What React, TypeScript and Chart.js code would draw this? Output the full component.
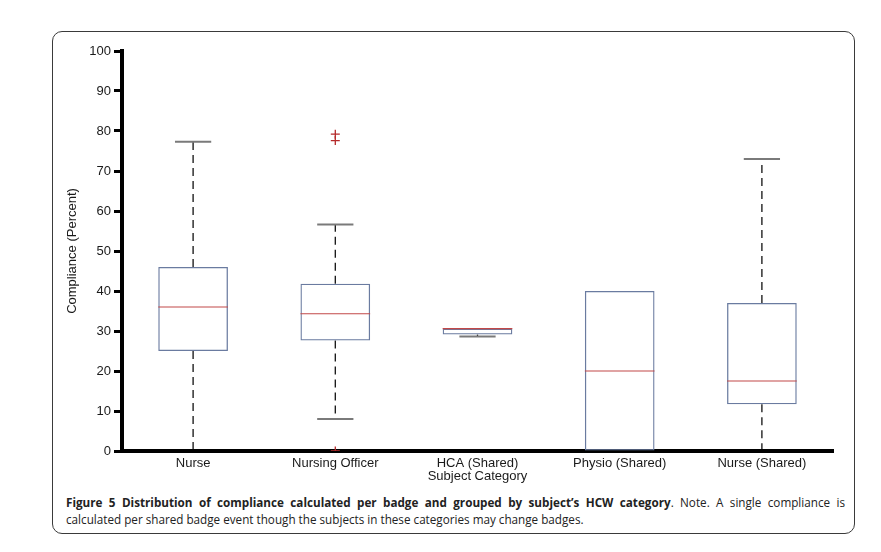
import React, { useEffect, useRef } from "react";
import { Chart, registerables } from "chart.js";

Chart.register(...registerables);

const categories = ["Nurse", "Nursing Officer", "HCA (Shared)", "Physio (Shared)", "Nurse (Shared)"];
const whiskerLow = [0, 8, 28.6, 0, 0];
const quartile1 = [25, 27.6, 29.1, 0, 11.7];
const medians = [36, 34.3, 30.6, 20, 17.5];
const quartile3 = [46, 41.8, 30.6, 40, 37];
const whiskerHigh = [77.3, 56.6, 30.6, 40, 73];
const outlierCategory = ["Nursing Officer", "Nursing Officer", "Nursing Officer"];
const outlierValues = [79.2, 77.6, 0];
const yTicks = [0, 10, 20, 30, 40, 50, 60, 70, 80, 90, 100];

const FONT = "'Liberation Sans', Arial, sans-serif";

const boxPlugin = {
  id: "boxWhiskers",
  beforeDraw(chart: any) {
    const ctx = chart.ctx;
    const y = chart.scales.y;
    const meta = chart.getDatasetMeta(0);
    meta.data.forEach((bar: any, i: number) => {
      const cx = bar.x;
      const w = bar.width;
      const capHalf = w * 0.26;
      ctx.save();
      const segs: [number, number][] = [];
      if (whiskerHigh[i] > quartile3[i]) segs.push([quartile3[i], whiskerHigh[i]]);
      if (whiskerLow[i] < quartile1[i]) segs.push([quartile1[i], whiskerLow[i]]);
      segs.forEach(([from, to]) => {
        ctx.beginPath();
        ctx.setLineDash([8, 5]);
        ctx.strokeStyle = "#111";
        ctx.lineWidth = 1.3;
        ctx.moveTo(cx, y.getPixelForValue(from));
        ctx.lineTo(cx, y.getPixelForValue(to));
        ctx.stroke();
        ctx.setLineDash([]);
        ctx.beginPath();
        ctx.strokeStyle = "#7a7a7a";
        ctx.lineWidth = 2;
        const py = y.getPixelForValue(to);
        ctx.moveTo(cx - capHalf, py);
        ctx.lineTo(cx + capHalf, py);
        ctx.stroke();
      });
      ctx.restore();
    });
  },
  afterDatasetsDraw(chart: any) {
    const ctx = chart.ctx;
    const y = chart.scales.y;
    const meta = chart.getDatasetMeta(0);
    meta.data.forEach((bar: any, i: number) => {
      const cx = bar.x;
      const w = bar.width;
      ctx.save();
      ctx.beginPath();
      ctx.strokeStyle = "#c24848";
      ctx.lineWidth = 1.1;
      const my = y.getPixelForValue(medians[i]);
      ctx.moveTo(cx - w / 2, my);
      ctx.lineTo(cx + w / 2, my);
      ctx.stroke();
      ctx.restore();
    });
  },
};

function BoxChart() {
  const ref = useRef<HTMLCanvasElement>(null);
  useEffect(() => {
    if (!ref.current) return;
    const chart = new Chart(ref.current, {
      type: "bar",
      data: {
        labels: categories,
        datasets: [
          {
            type: "bar",
            data: categories.map((_, i) => [quartile1[i], quartile3[i]]) as any,
            backgroundColor: "rgba(255,255,255,0)",
            borderColor: "#6a7ba0",
            borderWidth: 1.3,
            borderSkipped: false,
            categoryPercentage: 1,
            barPercentage: 0.49,
          },
          {
            type: "line",
            data: outlierValues.map((v, i) => ({ x: outlierCategory[i], y: v })) as any,
            showLine: false,
            pointStyle: "cross",
            pointRadius: 4.5,
            pointBorderWidth: 1.3,
            pointBorderColor: "#b52a2a",
            pointBackgroundColor: "#b52a2a",
          } as any,
        ],
      },
      plugins: [boxPlugin],
      options: {
        animation: false,
        responsive: false,
        devicePixelRatio: 1,
        layout: { padding: { top: 20, right: 22, left: 0, bottom: 0 } },
        plugins: { legend: { display: false }, tooltip: { enabled: false } },
        scales: {
          x: {
            type: "category",
            offset: true,
            grid: { display: false, drawTicks: false },
            border: { display: true, color: "#000", width: 4 },
            ticks: { color: "#1a1a1a", font: { family: FONT, size: 13 }, padding: 5, maxRotation: 0, autoSkip: false },
            title: { display: true, text: "Subject Category", color: "#1a1a1a", font: { family: FONT, size: 13 }, padding: { top: 0, bottom: 7 } },
            afterFit: (s: any) => { s.height = 40; },
          },
          y: {
            type: "linear",
            min: 0,
            max: 100,
            afterBuildTicks: (s: any) => { s.ticks = yTicks.map((v) => ({ value: v })); },
            grid: { drawOnChartArea: false, drawTicks: true, tickLength: 8, tickWidth: 3, tickColor: "#000", color: "#000" },
            border: { display: true, color: "#000", width: 4 },
            ticks: { color: "#1a1a1a", font: { family: FONT, size: 13 }, padding: 3 },
            title: { display: true, text: "Compliance (Percent)", color: "#1a1a1a", font: { family: FONT, size: 13 }, padding: { top: 13, bottom: 0 } },
            afterFit: (s: any) => { s.width = 70; },
          },
        },
      },
    });
    return () => chart.destroy();
  }, []);
  return <canvas ref={ref} width={803} height={460} style={{ position: "absolute", left: 0, top: 0, width: 803, height: 460 }} />;
}

export default function App() {
  const capFont = "'Open Sans', 'DejaVu Sans', sans-serif";
  return (
    <div style={{ position: "absolute", left: 0, top: 0, width: 881, height: 552, background: "#fff", overflow: "hidden" }}>
      <div style={{ position: "absolute", left: 52, top: 31, width: 803, height: 503, boxSizing: "border-box", border: "1px solid #3a3a3a", borderRadius: 10 }} />
      <div style={{ position: "absolute", left: 52, top: 31, width: 803, height: 460 }}>
        <BoxChart />
      </div>
      <div style={{ position: "absolute", left: 66, top: 494, width: 779, fontFamily: capFont, fontSize: 11.7, lineHeight: "17px", color: "#222" }}>
        <div style={{ textAlign: "justify", textAlignLast: "justify", whiteSpace: "nowrap" as any }}>
          <b>Figure 5 Distribution of compliance calculated per badge and grouped by subject’s HCW category</b>. Note. A single compliance is
        </div>
        <div>calculated per shared badge event though the subjects in these categories may change badges.</div>
      </div>
    </div>
  );
}
